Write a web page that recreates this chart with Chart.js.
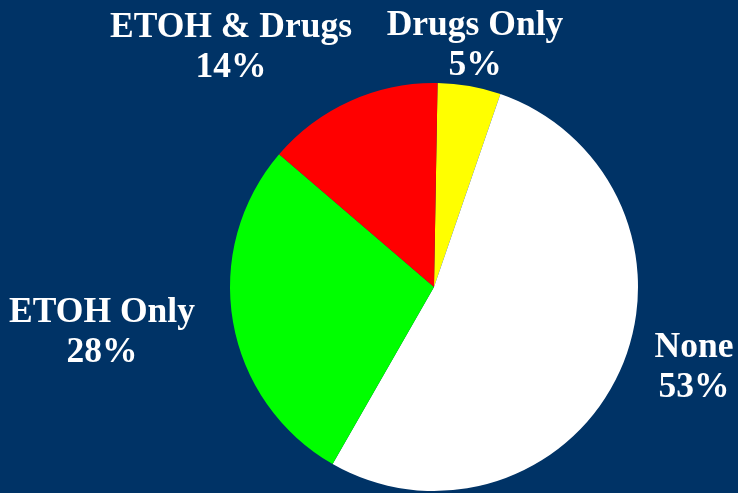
<!DOCTYPE html>
<html>
<head>
<meta charset="utf-8">
<script src="https://cdn.jsdelivr.net/npm/chart.js@4"></script>
<style>
  html, body { margin: 0; padding: 0; background: #003366; }
  #wrap { width: 738px; height: 493px; position: relative; }
</style>
</head>
<body>
<div id="wrap"><canvas id="piechart"></canvas></div>
<script>
// data, clockwise from the top
const categories = ['Drugs Only', 'None', 'ETOH Only', 'ETOH & Drugs'];
const percents = [5, 53, 28, 14];
const sliceColors = ['#ffff00', '#ffffff', '#00ff00', '#ff0000'];

// where each two-line label sits (centre x, baseline of first line)
const labelSpots = {
    'Drugs Only': [475, 35],
    'None': [694, 357],
    'ETOH Only': [102, 322],
    'ETOH & Drugs': [231, 37]
};

const labelPlugin = {
    id: 'outsideLabels',
    afterDatasetsDraw(chart) {
        const ctx = chart.ctx;
        ctx.save();
        ctx.fillStyle = '#ffffff';
        ctx.font = 'bold 35.5px "Liberation Serif", "Times New Roman", serif';
        ctx.textAlign = 'center';
        ctx.textBaseline = 'alphabetic';
        chart.data.labels.forEach((name, i) => {
            const spot = labelSpots[name];
            ctx.fillText(name, spot[0], spot[1]);
            ctx.fillText(chart.data.datasets[0].data[i] + '%', spot[0], spot[1] + 40);
        });
        ctx.restore();
    }
};

const ctx = document.getElementById('piechart').getContext('2d');

const myChart = new Chart(ctx, {
    type: 'pie',
    data: {
        labels: categories,
        datasets: [
            {
                data: percents,
                backgroundColor: sliceColors,
                borderWidth: 0,
            },
        ],
    },
    options: {
        responsive: true,
        maintainAspectRatio: false,
        animation: false,
        rotation: 1,
        layout: {
            padding: { left: 230, right: 100, top: 83, bottom: 2 }
        },
        plugins: {
            legend: { display: false },
            tooltip: { enabled: false }
        },
    },
    plugins: [labelPlugin],
});
</script>
</body>
</html>
